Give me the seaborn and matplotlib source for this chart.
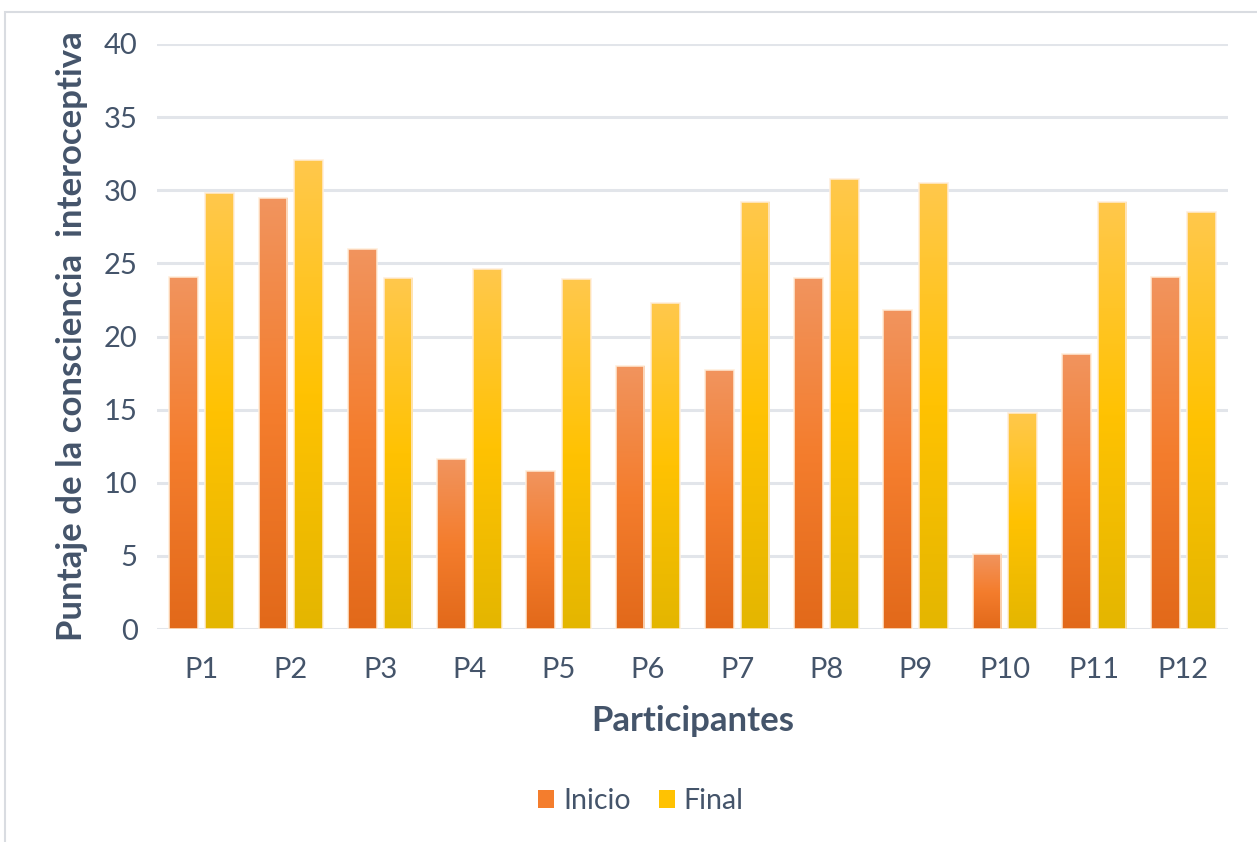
import numpy as np
import pandas as pd
import matplotlib
matplotlib.use("Agg")
import matplotlib.pyplot as plt
from matplotlib.colors import LinearSegmentedColormap
from matplotlib.patches import Rectangle, Patch
import seaborn as sns

# Scores per participant, before and after
participantes = ["P1", "P2", "P3", "P4", "P5", "P6", "P7", "P8", "P9", "P10", "P11", "P12"]
inicio = [24.1, 29.5, 26.0, 11.6, 10.8, 18.0, 17.7, 24.0, 21.8, 5.1, 18.8, 24.1]
final = [29.8, 32.1, 24.0, 24.6, 23.9, 22.3, 29.2, 30.8, 30.5, 14.8, 29.2, 28.5]
series = ["Inicio", "Final"]
y_ticks = [0, 5, 10, 15, 20, 25, 30, 35, 40]

df = pd.DataFrame({
    "Participante": participantes * 2,
    "Serie": [series[0]] * len(participantes) + [series[1]] * len(participantes),
    "Puntaje": inicio + final,
})

TEXT = "#44546A"
GRID = "#E2E5EA"
palette = {"Inicio": "#F37C2E", "Final": "#FFC000"}
# top / middle / bottom stops for the per-bar vertical gradient
gradients = {
    "Inicio": ["#F1945E", "#F47D2D", "#E2691A"],
    "Final": ["#FFC84C", "#FFC202", "#E4B600"],
}

sns.set_theme(style="white")
plt.rcParams["font.family"] = ["Lato", "DejaVu Sans"]

fig = plt.figure(figsize=(12.57, 8.42), dpi=100)
ax = fig.add_axes([157 / 1257, 1 - 629 / 842, (1228 - 157) / 1257, (629 - 44) / 842])

sns.barplot(data=df, x="Participante", y="Puntaje", hue="Serie",
            order=participantes, hue_order=series, palette=palette,
            width=0.8, gap=0.2, legend=False, ax=ax, zorder=3)

# replace flat fills with vertical gradients clipped to each bar
n = len(participantes)
for i, patch in enumerate(list(ax.patches)):
    key = series[i // n]
    cmap = LinearSegmentedColormap.from_list(key, gradients[key][::-1])
    x0, y0 = patch.get_x(), patch.get_y()
    w, h = patch.get_width(), patch.get_height()
    grad = np.linspace(0, 1, 256).reshape(-1, 1)
    im = ax.imshow(grad, cmap=cmap, origin="lower", aspect="auto",
                   extent=[x0, x0 + w, y0, y0 + h], zorder=3, interpolation="bilinear")
    im.set_clip_path(patch)
    patch.set_facecolor("none")
    patch.set_edgecolor((1, 0.93, 0.85, 0.9))
    patch.set_linewidth(1.2)
    patch.set_zorder(4)

ax.set_xlim(-0.5, n - 0.5)
ax.set_ylim(0, 40)
ax.set_yticks(y_ticks)
ax.set_yticklabels([str(t) for t in y_ticks])
ax.yaxis.grid(True, color=GRID, linewidth=2.2, zorder=0)
ax.set_axisbelow(True)
for s in ax.spines.values():
    s.set_visible(False)
ax.tick_params(axis="both", length=0, labelsize=21, colors=TEXT)
ax.tick_params(axis="y", pad=14)
ax.tick_params(axis="x", pad=20)

ax.set_xlabel("Participantes", fontsize=25, fontweight="bold", color=TEXT, labelpad=16)
ax.set_ylabel("Puntaje de la consciencia  interoceptiva", fontsize=25,
              fontweight="bold", color=TEXT, labelpad=11)

handles = [Patch(facecolor=gradients[s][1], edgecolor="none") for s in series]
fig.legend(handles, series, loc="center", bbox_to_anchor=(641 / 1257, 1 - 801 / 842),
           ncol=2, frameon=False, fontsize=20.5, labelcolor=TEXT,
           handlelength=0.56, handleheight=0.56, handletextpad=0.3, columnspacing=1.0)

# light chart-area border
fig.patches.append(Rectangle((5 / 1257, -0.1), 1.2, 1 - 12 / 842 + 0.1,
                             transform=fig.transFigure, fill=False,
                             edgecolor="#D9DCE1", linewidth=1.5))

fig.savefig("out.png", dpi=100, facecolor="white")
